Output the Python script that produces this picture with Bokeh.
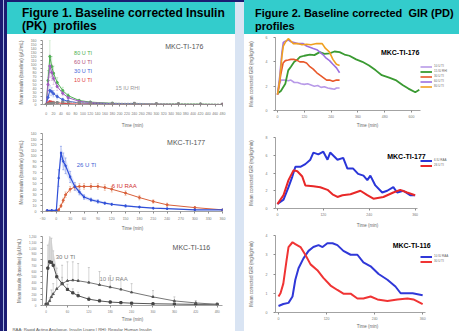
from bokeh.plotting import figure
from bokeh.models import (Label, Whisker, ColumnDataSource, Legend, LegendItem, Title,
                          FixedTicker, NumeralTickFormatter, Range1d, TeeHead, Div)
from bokeh.layouts import row, column
from bokeh.embed import file_html
from bokeh.resources import INLINE

FONT = "Liberation Sans"
TEAL = "#33cccc"
NAVY = "#1b1b72"
GAP = "#d9e4f3"
AX = "#8c8c8c"

# ---------------- Figure 1 (PK) data ----------------
# MKC-TI-176
pk176_t = [0, 5, 10, 15, 20, 30, 45, 60, 90, 120, 180, 240, 300, 360, 420, 480]
pk176_80 = [0, 60, 120, 95, 78, 55, 35, 22, 10, 6, 3, 2, 1, 1, 1, 0]
pk176_80_err = [0, 25, 40, 25, 18, 12, 8, 5, 3, 2, 1, 1, 1, 1, 1, 0]
pk176_60 = [0, 50, 96, 80, 65, 45, 28, 17, 8, 5, 2, 1, 1, 0, 0, 0]
pk176_60_err = [0, 18, 28, 20, 15, 10, 6, 4, 2, 1, 1, 1, 0, 0, 0, 0]
pk176_30 = [0, 18, 35, 32, 27, 20, 12, 8, 4, 3, 1, 1, 0, 0, 0, 0]
pk176_30_err = [0, 8, 12, 10, 8, 6, 4, 3, 2, 1, 1, 0, 0, 0, 0, 0]
pk176_10 = [0, 4, 7, 6, 5, 4, 3, 2, 1, 1, 0, 0, 0, 0, 0, 0]
pk176_rhi = [0, 1, 2, 3, 4, 5, 6, 6, 5, 4, 3, 3, 2, 2, 1, 1]
pk176_xticks = list(range(0, 500, 20))
pk176_yticks = list(range(0, 170, 10))

# MKC-TI-177
pk177_t = [-20, -10, 0, 5, 10, 15, 20, 30, 40, 50, 60, 75, 90, 105, 120, 150, 180, 210, 240, 300, 360]
pk177_ti = [2, 2, 2, 60, 105, 90, 82, 62, 45, 35, 26, 21, 18, 15, 13, 10, 8, 6, 5, 3, 3]
pk177_ti_err = [0, 0, 0, 15, 12, 15, 14, 10, 7, 5, 4, 3, 3, 2, 2, 2, 1, 1, 1, 1, 0]
pk177_raa = [1, 1, 1, 3, 10, 20, 30, 40, 44, 45, 45, 45, 45, 43, 40, 33, 25, 18, 12, 7, 3]
pk177_raa_err = [0, 0, 0, 1, 3, 4, 5, 5, 5, 5, 5, 5, 5, 5, 5, 4, 4, 3, 3, 2, 1]
pk177_xticks = list(range(-30, 390, 30))
pk177_yticks = list(range(0, 150, 10))

# MKC-TI-116
pk116_t = [0, 5, 10, 15, 20, 30, 45, 60, 75, 90, 120, 150, 180, 210, 240, 300, 360, 420, 480]
pk116_ti = [20, 650, 760, 750, 700, 500, 380, 280, 220, 170, 110, 80, 60, 50, 40, 30, 25, 20, 20]
pk116_ti_err = [0, 400, 450, 420, 250, 150, 110, 90, 70, 60, 40, 30, 25, 20, 15, 10, 10, 8, 8]
pk116_raa = [10, 30, 80, 150, 200, 290, 380, 430, 440, 430, 400, 360, 320, 280, 230, 150, 80, 45, 20]
pk116_raa_err = [0, 20, 50, 120, 180, 260, 320, 330, 320, 300, 260, 230, 200, 180, 150, 110, 70, 40, 25]
pk116_xticks = list(range(0, 540, 60))
pk116_yticks = list(range(0, 1300, 100))

# ---------------- Figure 2 (GIR) data ----------------
gir176_rhi_t = [0, 15, 35, 48, 60, 75, 90, 101, 120, 145, 165, 189, 210, 233, 255, 278, 300, 322, 352, 380, 410, 440, 467, 500, 529, 560, 586, 617, 635]
gir176_rhi = [1.4, 1.6, 2.2, 3.3, 3.6, 4.0, 4.2, 4.4, 4.5, 4.6, 4.55, 4.8, 4.65, 4.7, 4.85, 4.8, 4.6, 4.5, 4.2, 4.0, 3.7, 3.3, 2.9, 2.7, 2.5, 2.1, 1.8, 1.5, 1.7]
gir176_60_t = [0, 10, 20, 26, 35, 48, 60, 70, 90, 115, 130, 145, 160, 176, 190, 203, 218, 233, 248, 264, 278]
gir176_60 = [1.3, 2.8, 4.8, 5.6, 5.7, 5.8, 5.65, 5.6, 5.5, 5.5, 5.3, 5.2, 5.1, 5.0, 4.8, 4.6, 4.3, 4.1, 3.8, 3.5, 3.1]
gir176_80_t = [0, 10, 20, 26, 35, 48, 55, 70, 90, 110, 130, 150, 175, 200, 215, 233, 248, 264, 278]
gir176_80 = [1.3, 2.5, 4.5, 5.3, 5.6, 5.9, 5.8, 5.5, 5.5, 5.4, 5.45, 5.4, 5.5, 5.5, 5.1, 4.8, 4.2, 3.8, 3.7]
gir176_30_t = [0, 10, 15, 25, 35, 48, 60, 75, 90, 100, 115, 130, 145, 160, 176, 190, 205, 220, 233, 248, 264, 278]
gir176_30 = [1.3, 2.4, 3.0, 3.9, 4.1, 4.15, 4.2, 4.2, 4.1, 4.0, 4.0, 3.9, 3.6, 3.4, 3.1, 2.9, 2.7, 2.5, 2.5, 2.4, 2.5, 2.5]
gir176_10_t = [0, 10, 15, 25, 35, 48, 60, 75, 90, 105, 120, 135, 150, 165, 180, 195, 210, 225, 240, 255, 264, 278]
gir176_10 = [1.3, 2.2, 2.5, 2.5, 2.5, 2.45, 2.5, 2.3, 2.3, 2.2, 2.15, 2.2, 2.1, 2.0, 2.05, 1.9, 1.95, 1.85, 1.8, 1.75, 1.85, 1.85]
gir176_xticks = [0, 120, 240, 360, 480, 600]
gir176_yticks = [0, 2, 4, 6]

gir177_raa_t = [0, 16, 29, 39, 47, 60, 73, 86, 94, 107, 120, 131, 138, 157, 172, 183, 198, 211, 225, 235, 243, 256, 274, 287, 303, 313, 329, 347, 360]
gir177_raa = [0.5, 1.0, 2.4, 3.6, 4.7, 4.7, 5.0, 5.5, 6.3, 6.1, 6.4, 5.5, 6.3, 5.5, 5.7, 4.5, 4.5, 3.9, 3.7, 3.2, 3.7, 2.6, 1.8, 2.0, 2.4, 1.8, 2.0, 1.5, 1.5]
gir177_ti_t = [0, 16, 29, 42, 52, 65, 73, 94, 112, 131, 144, 157, 170, 191, 217, 235, 251, 277, 303, 321, 339, 360]
gir177_ti = [0.5, 1.5, 3.2, 4.3, 4.2, 3.6, 2.6, 2.5, 2.4, 2.1, 1.6, 1.3, 1.5, 1.6, 2.0, 1.5, 1.1, 1.3, 1.8, 2.1, 1.8, 1.5]
gir177_xticks = [0, 120, 240, 360]
gir177_yticks = [0, 2, 4, 6, 8]

gir116_ti_t = [0, 5, 12, 20, 25, 35, 42, 55, 67, 80, 97, 112, 130, 147, 162, 180, 197, 212, 230, 247, 272, 297, 322, 337, 360]
gir116_ti = [0.83, 1.0, 1.5, 2.7, 3.4, 3.65, 3.55, 3.4, 3.0, 2.5, 2.2, 1.8, 1.4, 1.17, 0.98, 0.98, 0.73, 0.73, 0.83, 0.68, 0.6, 0.68, 0.73, 0.68, 0.44]
gir116_raa_t = [0, 12, 25, 35, 42, 50, 62, 75, 87, 100, 110, 122, 135, 147, 162, 180, 197, 212, 230, 250, 272, 292, 305, 317, 335, 360]
gir116_raa = [0.34, 0.44, 0.5, 0.83, 1.7, 2.3, 2.8, 3.2, 3.4, 3.5, 3.4, 3.6, 3.6, 3.5, 3.2, 3.0, 3.0, 2.6, 2.4, 2.0, 1.7, 1.35, 1.0, 1.0, 1.0, 0.9]
gir116_xticks = [0, 120, 240, 360]
gir116_yticks = [0, 1, 2, 3, 4]


def style_axes(p, xlab, ylab, x_std=1, xl_std=2, y_std=4, yl_std=4,
               tick_fs="3.5px", lab_fs="4.5px"):
    for ax in p.axis:
        ax.axis_line_color = AX
        ax.axis_line_width = 0.8
        ax.major_tick_line_color = AX
        ax.major_tick_out = 2
        ax.major_tick_in = 0
        ax.minor_tick_line_color = None
        ax.major_label_text_font_size = tick_fs
        ax.major_label_text_color = "#777777"
        ax.major_label_text_font = FONT
        ax.axis_label_text_font = FONT
        ax.axis_label_text_font_size = lab_fs
        ax.axis_label_text_color = "#666666"
        ax.axis_label_text_font_style = "normal"
    p.xaxis.major_label_standoff = x_std
    p.xaxis.axis_label_standoff = xl_std
    p.yaxis.major_label_standoff = y_std
    p.yaxis.axis_label_standoff = yl_std
    p.xaxis.axis_label = xlab
    p.yaxis.axis_label = ylab


def plot_fig(w, h, xr, yr, bl, br, bt, bb):
    p = figure(width=w, height=h, x_range=Range1d(*xr), y_range=Range1d(*yr),
               output_backend="svg", toolbar_location=None, title=None,
               min_border_left=bl, min_border_right=br,
               min_border_top=bt, min_border_bottom=bb,
               background_fill_color="white", border_fill_color="white",
               outline_line_color=None, margin=0)
    p.grid.visible = False
    return p


def header_div(w, h, line1, line2, size, pad, top_navy):
    html = ('<div style="font-family:\'Liberation Sans\',Arial,sans-serif;font-weight:bold;'
            'font-size:%s;line-height:13.4px;color:#000;padding-left:%dpx;padding-top:6.5px;'
            'white-space:nowrap;">%s<br>%s</div>' % (size, pad, line1, line2))
    bg = ("linear-gradient(to bottom, %s 0px, %s 2px, %s 2px)" % (NAVY, NAVY, TEAL)) if top_navy else TEAL
    return Div(text=html, width=w, height=h, margin=0,
               styles={"background": bg, "overflow": "hidden"})


def note(p, x, y, txt, color, size="5.5px", bold=False):
    p.add_layout(Label(x=x, y=y, text=txt, text_font=FONT, text_font_size=size,
                       text_color=color, text_baseline="middle",
                       text_font_style="bold" if bold else "normal"))


def errbars(p, t, v, e, color, alpha=0.8, lower=True):
    up = [a + b for a, b in zip(v, e)]
    lo = [a - b for a, b in zip(v, e)] if lower else list(v)
    src = ColumnDataSource(dict(t=t, up=up, lo=lo))
    p.add_layout(Whisker(source=src, base="t", upper="up", lower="lo",
                         line_color=color, line_width=0.6, line_alpha=alpha,
                         upper_head=TeeHead(size=2, line_color=color, line_width=0.6),
                         lower_head=TeeHead(size=2, line_color=color, line_width=0.6) if lower else None))


# ---------------- Left navy strip ----------------
strip = Div(text="", width=7, height=331, margin=0,
            styles={"background": "linear-gradient(to right, %s 0px, %s 3px, #a9b8e4 3px, #a9b8e4 4px, %s 4px)"
                    % (NAVY, NAVY, NAVY)})

# ---------------- Left column ----------------
LW = 228
h1 = header_div(LW, 34, "Figure 1. Baseline corrected Insulin", "(PK)&nbsp; profiles", "12px", 15, True)

PKY = "Mean insulin (baseline) (\u00b5U/mL)"
LB, RB = 35, 13

l1 = plot_fig(LW, 96, (-10, 480), (0, 160), LB, RB, 6, 22)
style_axes(l1, "Time (min)", PKY, x_std=5, xl_std=5)
l1.xaxis.ticker = FixedTicker(ticks=pk176_xticks)
l1.yaxis.ticker = FixedTicker(ticks=pk176_yticks)
errbars(l1, pk176_t, pk176_80, pk176_80_err, "#9fd89f")
errbars(l1, pk176_t, pk176_60, pk176_60_err, "#d6a8e0")
errbars(l1, pk176_t, pk176_30, pk176_30_err, "#9fb2ee")
l1.line(pk176_t, pk176_80, line_color="#4caf50", line_width=1)
l1.scatter(pk176_t, pk176_80, size=2.2, color="#4caf50")
l1.line(pk176_t, pk176_60, line_color="#a05cc0", line_width=1)
l1.scatter(pk176_t, pk176_60, size=2.2, color="#a05cc0")
l1.line(pk176_t, pk176_30, line_color="#3f5fd6", line_width=1)
l1.scatter(pk176_t, pk176_30, size=2.2, color="#3f5fd6")
l1.line(pk176_t, pk176_10, line_color="#e04040", line_width=1)
l1.scatter(pk176_t, pk176_10, size=2.2, color="#e04040")
l1.line(pk176_t, pk176_rhi, line_color="#999999", line_width=1, line_dash="2 1")
l1.scatter(pk176_t, pk176_rhi, size=2, color="#888888", marker="square")
note(l1, 76, 129, "80 U TI", "#4caf50")
note(l1, 76, 106, "60 U TI", "#b0507a")
note(l1, 76, 85, "30 U TI", "#3f5fd6")
note(l1, 76, 61, "10 U TI", "#e04040")
note(l1, 189, 42, "15 IU RHI", "#999999")
note(l1, 324, 144, "MKC-TI-176", "#555555", size="7px")

l2 = plot_fig(LW, 103, (-30, 360), (0, 140), LB, RB, 3, 16)
style_axes(l2, "Time (min)", PKY, x_std=3, xl_std=3)
l2.xaxis.ticker = FixedTicker(ticks=pk177_xticks)
l2.yaxis.ticker = FixedTicker(ticks=pk177_yticks)
l2.varea(x=pk177_t, y1=[a - b for a, b in zip(pk177_ti, pk177_ti_err)],
         y2=[a + b for a, b in zip(pk177_ti, pk177_ti_err)], fill_color="#aab8f0", fill_alpha=0.35)
errbars(l2, pk177_t, pk177_ti, pk177_ti_err, "#6f86e6")
errbars(l2, pk177_t, pk177_raa, pk177_raa_err, "#e8a080")
l2.line(pk177_t, pk177_raa, line_color="#d9603a", line_width=1)
l2.scatter(pk177_t, pk177_raa, size=2, color="#d9603a")
l2.line(pk177_t, pk177_ti, line_color="#3050d8", line_width=1.2)
l2.scatter(pk177_t, pk177_ti, size=2.5, color="#3050d8", marker="diamond")
note(l2, 44, 83, "26 U TI", "#3f5fd6", size="6px")
note(l2, 120, 45, "6 IU RAA", "#d03030", size="6px")
note(l2, 240, 123, "MKC-TI-177", "#555555", size="7px")

l3 = plot_fig(LW, 98, (-10, 495), (0, 1200), LB, RB, 3, 21)
style_axes(l3, "Time (min)", PKY, x_std=2, xl_std=1, tick_fs="3px")
l3.xaxis.ticker = FixedTicker(ticks=pk116_xticks)
l3.yaxis.ticker = FixedTicker(ticks=pk116_yticks)
l3.yaxis.formatter = NumeralTickFormatter(format="0,0")
l3.varea(x=pk116_t[:6], y1=pk116_ti[:6],
         y2=[a + b for a, b in zip(pk116_ti[:6], pk116_ti_err[:6])], fill_color="#cccccc", fill_alpha=0.7)
errbars(l3, pk116_t, pk116_ti, pk116_ti_err, "#aaaaaa", lower=False)
errbars(l3, pk116_t, pk116_raa, pk116_raa_err, "#aaaaaa", lower=False)
l3.line(pk116_t, pk116_ti, line_color="#555555", line_width=1)
l3.scatter(pk116_t, pk116_ti, size=2.2, color="#444444", marker="square")
l3.line(pk116_t, pk116_raa, line_color="#777777", line_width=1)
l3.scatter(pk116_t, pk116_raa, size=2.2, color="#555555", marker="triangle")
note(l3, 27, 842, "30 U TI", "#777777", size="6px")
note(l3, 150, 467, "10 IU RAA", "#888888", size="6px")
note(l3, 355, 1013, "MKC-TI-116", "#555555", size="7px")
l3.add_layout(Title(text="RAA: Rapid Acting Analogue, Insulin Lispro | RHI: Regular Human Insulin",
                    text_font=FONT, text_font_size="4.3px", text_font_style="normal",
                    text_color="#555555", align="left", offset=-30, standoff=0), "below")

left = column(h1, l1, l2, l3, spacing=0)

# ---------------- Gap strip ----------------
gap = Div(text="", width=9, height=331, margin=0,
          styles={"background": "linear-gradient(to bottom, %s 0px, %s 2px, %s 2px)" % (NAVY, NAVY, GAP)})

# ---------------- Right column ----------------
RW = 215
h2 = header_div(RW, 34, "Figure 2. Baseline corrected&nbsp; GIR (PD)", "profiles", "11px", 11, False)

GIRY = "Mean corrected GIR (mg/kg/min)"


def gir_legend(p, items, loc):
    leg = Legend(items=items, location=loc, label_text_font_size="3px",
                 label_text_font=FONT, label_text_color="#666666",
                 glyph_width=12, glyph_height=3, label_height=3, label_standoff=2,
                 spacing=1, padding=0, margin=0, border_line_color=None,
                 background_fill_alpha=0)
    p.add_layout(leg)


RL, RR = 31, 0

r1 = plot_fig(RW, 96, (-9, 815), (0, 6), RL, RR, 3, 15)
style_axes(r1, "Time (min)", GIRY, x_std=2, xl_std=2, y_std=6, yl_std=9)
r1.xaxis.ticker = FixedTicker(ticks=gir176_xticks)
r1.xaxis.bounds = (-9, 640)
r1.yaxis.ticker = FixedTicker(ticks=gir176_yticks)
c10 = r1.line(gir176_10_t, gir176_10, line_color="#b89ae8", line_width=1.6)
crhi = r1.line(gir176_rhi_t, gir176_rhi, line_color="#3a9a32", line_width=1.8)
c30 = r1.line(gir176_30_t, gir176_30, line_color="#e8582a", line_width=1.6)
c60 = r1.line(gir176_60_t, gir176_60, line_color="#9c70e0", line_width=1.6)
c80 = r1.line(gir176_80_t, gir176_80, line_color="#f0a020", line_width=1.6)
note(r1, 463, 4.77, "MKC-TI-176", "black", size="7px", bold=True)
gir_legend(r1, [LegendItem(label="10 U TI", renderers=[c10]),
                LegendItem(label="15 IU RHI", renderers=[crhi]),
                LegendItem(label="30 U TI", renderers=[c30]),
                LegendItem(label="60 U TI", renderers=[c60]),
                LegendItem(label="80 U TI", renderers=[c80])], (145, 22))

r2 = plot_fig(RW, 100, (-5, 476), (0, 8), RL, RR, 7, 18)
style_axes(r2, "Time (min)", GIRY, x_std=2, xl_std=4, y_std=6, yl_std=9)
r2.xaxis.ticker = FixedTicker(ticks=gir177_xticks)
r2.xaxis.bounds = (-5, 366)
r2.yaxis.ticker = FixedTicker(ticks=gir177_yticks)
b2 = r2.line(gir177_raa_t, gir177_raa, line_color="#2a36d8", line_width=2)
d2 = r2.line(gir177_ti_t, gir177_ti, line_color="#e82828", line_width=2)
note(r2, 287, 5.87, "MKC-TI-177", "black", size="7px", bold=True)
gir_legend(r2, [LegendItem(label="6 IU RAA", renderers=[b2]),
                LegendItem(label="26 U TI", renderers=[d2])], (145, 41))

r3 = plot_fig(RW, 101, (-7.5, 452), (0, 4), RL, RR, 5, 14)
style_axes(r3, "Time (min)", GIRY, x_std=2, xl_std=1, y_std=6, yl_std=9)
r3.xaxis.ticker = FixedTicker(ticks=gir116_xticks)
r3.xaxis.bounds = (-7.5, 367)
r3.yaxis.ticker = FixedTicker(ticks=gir116_yticks)
b3 = r3.line(gir116_raa_t, gir116_raa, line_color="#3038d8", line_width=2)
d3 = r3.line(gir116_ti_t, gir116_ti, line_color="#f03434", line_width=2)
note(r3, 285, 3.5, "MKC-TI-116", "black", size="7px", bold=True)
gir_legend(r3, [LegendItem(label="10 IU RAA", renderers=[b3]),
                LegendItem(label="30 U TI", renderers=[d3])], (145, 49))

right = column(h2, r1, r2, r3, spacing=0)

page = row(strip, left, gap, right, spacing=0)

open("out.html", "w").write(file_html(page, INLINE))
